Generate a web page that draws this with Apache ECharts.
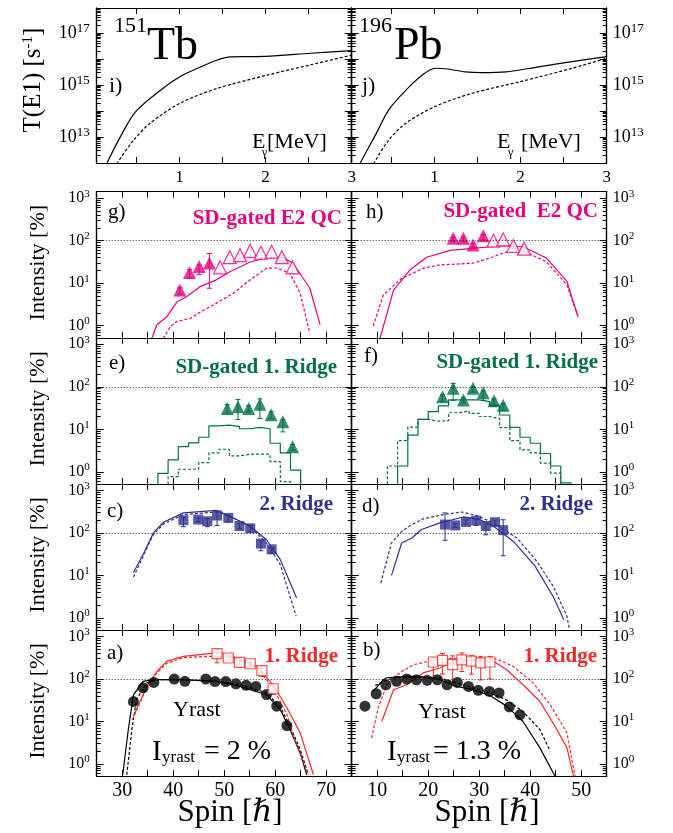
<!DOCTYPE html>
<html>
<head>
<meta charset="utf-8">
<script src="https://cdn.jsdelivr.net/npm/echarts@6/dist/echarts.min.js"></script>
<style>html,body{margin:0;padding:0;background:#fff}#chart{width:673px;height:833px}</style>
</head>
<body>
<div id="chart"></div>
<script>
// ---------- data ----------
// T(E1) vs E_gamma, 151Tb (i) and 196Pb (j)
var tbEs = [0.14, 0.16, 0.32, 0.49, 0.78, 1.01, 1.25, 1.44, 1.59, 1.8, 2.0, 2.52, 3.0];
var tbTs = [6e11, 1.0e12, 1.1e13, 9.3e13, 6.3e14, 2.1e15, 5.0e15, 9.1e15, 1.2e16, 1.23e16, 1.25e16, 1.66e16, 2.09e16];
var tbEd = [0.26, 0.28, 0.47, 0.66, 1.01, 1.44, 2.02, 2.52, 3.0];
var tbTd = [6e11, 1.0e12, 7.6e12, 3.4e13, 2.0e14, 7.4e14, 2.4e15, 5.9e15, 1.41e16];
var pbEs = [0.12, 0.14, 0.32, 0.47, 0.67, 0.86, 1.01, 1.13, 1.36, 1.55, 1.83, 2.21, 2.6, 3.0];
var pbTs = [6e11, 1.0e12, 1.26e13, 1.1e14, 6.3e14, 2.4e15, 4.4e15, 4.2e15, 3.2e15, 3.0e15, 3.2e15, 5.0e15, 7.9e15, 1.23e16];
var pbEd = [0.28, 0.30, 0.47, 0.67, 1.01, 1.44, 2.0, 2.6, 3.0];
var pbTd = [6e11, 1.0e12, 7.6e12, 3.4e13, 1.5e14, 4.8e14, 1.35e15, 4.4e15, 1.07e16];

// g) / h) SD-gated E2 QC
var gSolid = [[35.8,0.5],[36.8,1.05],[38.7,1.6],[40.7,3.6],[42.6,4.8],[45.25,8.3],[48.5,12],[51.1,18.6],[55.1,31.6],[58.3,40],[61.6,40],[63.5,29.5],[66.8,7.6],[68.8,1.05]];
var gDash = [[38.06,0.5],[39.4,0.95],[40.7,1.26],[43.3,1.48],[45.9,2.3],[48.5,3.4],[51.8,5.8],[55.1,12],[58.3,22.4],[60.3,22.9],[62.9,17],[64.9,5.8],[66.8,0.66]];
var gFillS = [41.3, 43.2, 45.1, 47.1];
var gFillI = [6.9, 17.8, 24.6, 30];
var gFillLo = [5.6, 13, 16, 7.6];
var gFillHi = [7.8, 21, 27, 50];
var gOpenS = [49.2, 51.1, 53.1, 55.1, 57.2, 59.3, 61.3, 63.4];
var gOpenI = [23.7, 40.9, 45.8, 58, 52, 55, 41, 23.7];
var gOpenLo = [18, 30, 35, 40, 38, 40, 30, 17];
var gOpenHi = [28, 45, 50, 62, 55, 58, 44, 26];

var hSolid = [[10.55,0.5],[13.2,6.9],[16.4,20.4],[19.7,40.7],[24.3,59],[28.8,66],[34.1,76],[38.6,72],[43.2,39],[47.2,11],[49.4,1.6]];
var hDash = [[9.2,0.98],[11.2,5.2],[14.5,12.3],[19.0,22.4],[22.3,27],[28.8,29.5],[32.1,39],[35.4,55],[38.6,57.5],[43.2,32],[47.2,9.1],[49.4,1.6]];
var hFillS = [24.9, 26.9, 28.8, 30.8];
var hFillI = [114, 114, 79, 131];
var hFillLo = [95, 95, 70, 105];
var hFillHi = [120, 120, 88, 140];
var hOpenS = [32.8, 34.7, 36.7, 38.8];
var hOpenI = [100, 107, 75, 65];
var hOpenLo = [85, 80, 65, 55];
var hOpenHi = [104, 110, 80, 70];

// e) / f) SD-gated 1. Ridge (histograms)
var eEdges = [37,39,41,43,45,47,49,51,53,55,57,59,61,63,65];
var eSolidV = [0.92,1.9,3.9,4.8,6.5,12,12.6,11.6,10.3,11.1,10.3,4.7,2.8,1.1];
var eDashEdges = [39,41,43,45,47,49,51,53,55,57,59,61,63];
var eDashV = [0.77,1.15,1.15,1.64,2.8,3.4,2.36,2.6,2.6,2.6,1.73,0.59];
var eTriS = [50.6, 52.7, 54.8, 57.0, 59.2, 61.5, 63.4];
var eTriI = [31, 34, 31, 39, 22, 15, 3.9];
var eTriLo = [24, 17, 26, 18, 18, 8.7, 3.2];
var eTriHi = [38, 50, 36, 52, 26, 17, 4.4];

var fEdges = [14,16,18,20,22,24,26,28,30,32,34,36,38,40,42,44,46,48];
var fSolidV = [1.37,7.3,17.2,26,35.5,49,49,49,45,37,21.7,11.1,6.5,4.7,2.7,1.37,0.55];
var fDashEdges = [12,14,16,18,20,22,24,26,28,30,32,34,36,38,40,42,44,46];
var fDashV = [1.37,5.4,11.3,17.2,15.5,16,24.5,27,23.7,20,18,11,5.4,3.3,2.8,1.6,0.93];
var fTriS = [22.8, 24.9, 26.9, 28.8, 30.8, 32.9, 34.7];
var fTriI = [58.5, 93, 49, 93, 72, 47, 37];
var fTriLo = [45, 48, 42, 75, 48, 35, 28];
var fTriHi = [65, 120, 55, 100, 80, 52, 40];

// c) / d) 2. Ridge
var cSolid = [[32.2,11.7],[34.1,31],[36.1,100],[38.1,178],[42.0,295],[48.5,340],[51.8,225],[55.1,143],[58.3,69],[61.0,23.5],[64.2,2.95]];
var cDash = [[32.2,9.2],[36.1,91],[38.1,162],[42.0,270],[48.5,310],[51.8,225],[55.1,140],[58.3,58],[61.0,18],[64.1,1.1]];
var cSqS = [42.0, 44.9, 46.7, 48.6, 50.8, 53.0, 55.1, 57.2, 59.3];
var cSqI = [199, 206, 188, 256, 225, 145, 128, 56, 41];
var cSqLo = [140, 185, 140, 150, 180, 125, 105, 38, 33];
var cSqHi = [230, 225, 215, 320, 260, 165, 150, 65, 45];

var dSolid = [[12.8,10],[14.8,58],[16.8,76],[18.7,120],[22.3,172],[26.9,237],[30.2,204],[32.8,143],[36.7,63],[40.9,17],[44.5,3.2],[46.6,0.91]];
var dDash = [[10.7,6.6],[12.8,58],[14.8,109],[16.8,157],[19.0,214],[23.0,270],[26.6,310],[29.5,256],[32.8,172],[37.4,76],[41.3,21.5],[44.5,5.6],[47.2,1.1],[47.7,0.53]];
var dSqS = [23.3, 25.3, 27.4, 29.4, 31.3, 33.1, 34.7];
var dSqI = [157, 150, 181, 195, 145, 178, 116];
var dSqLo = [67, 135, 160, 150, 90, 150, 29];
var dSqHi = [295, 165, 200, 215, 160, 200, 204];

// a) / b) 1. Ridge + Yrast
var aYrSolid = [[30.1,0.56],[31.2,6.5],[32.2,42.5],[34.1,88],[36.1,97],[42.0,97],[48.5,88],[53.1,67],[58.3,42.5],[61.0,19],[62.9,6.5],[64.9,1.8],[66.2,0.56]];
var aYrDash = [[30.9,0.56],[31.9,6.5],[32.8,33],[34.8,80],[36.7,97],[42.0,95],[48.5,88],[53.1,74],[58.3,47],[61.0,22],[62.9,7.8],[64.9,2.2],[66.5,0.56]];
var aRiSolid = [[32.2,13.2],[34.8,67],[36.8,150],[38.7,260],[42.0,340],[46.6,388],[49.2,420],[53.1,295],[56.4,198],[59.6,73],[62.3,21],[64.9,5.4],[67.5,0.56]];
var aRiDash = [[32.0,11],[34.8,62],[36.8,138],[38.7,232],[42.0,318],[46.6,340],[50.5,340],[53.1,275],[56.4,183],[59.6,62],[62.3,14.5],[63.7,4.1],[66.5,0.56]];
var aYrS = [32.2, 34.1, 36.2, 40.2, 42.3, 46.4, 48.2, 50.3, 52.3, 54.3, 56.2, 58.3, 60.3, 62.3];
var aYrI = [29.5, 62, 83, 100, 88, 100, 87, 87, 77, 71, 67, 43, 23, 8.0];
var aSqS = [48.6, 50.8, 53.0, 55.1, 57.4, 59.6];
var aSqI = [394, 312, 245, 228, 157, 59];
var aSqLo = [240, 280, 225, 200, 115, 43];
var aSqHi = [490, 340, 265, 250, 180, 70];

var bYrSolid = [[9.2,51],[11.2,96],[11.9,107],[15.8,115],[19.0,112],[22.3,96],[25.6,67],[28.8,56],[32.1,41],[35.4,23],[38.6,10],[41.9,2.4],[44.9,0.51]];
var bYrDash = [[9.6,70],[11.2,87],[13.0,105],[16.0,110],[22.3,105],[25.6,80],[28.8,62],[32.1,47],[35.4,32],[38.6,17],[41.9,6.5],[43.9,2.0]];
var bRiSolid = [[10.9,10],[13.2,56],[15.8,73],[19.0,139],[22.3,181],[24.9,260],[28.8,275],[32.8,260],[35.4,165],[38.6,73],[41.9,30],[44.9,7.6],[47.2,2.4],[48.5,0.51]];
var bRiDash = [[8.9,4.1],[10.2,21],[11.9,73],[13.8,126],[17.1,217],[22.3,295],[28.8,323],[33.4,295],[36.7,198],[40.6,80],[43.9,25],[47.2,5.4],[48.8,0.51]];
var bYrS = [7.6, 9.8, 11.7, 13.8, 15.8, 17.7, 19.8, 21.8, 23.7, 25.7, 27.9, 29.8, 32.0, 33.9, 35.9, 38.0];
var bYrI = [23, 45, 73, 88, 100, 96, 93, 96, 73, 83, 67, 54, 51, 47, 22, 14.4];
var bSqS = [21.0, 22.8, 24.8, 26.6, 28.5, 30.3, 32.1];
var bSqI = [251, 275, 217, 282, 262, 240, 251];
var bSqLo = [110, 130, 85, 150, 130, 95, 100];
var bSqHi = [320, 400, 350, 410, 360, 340, 340];

// ---------- layout / style ----------
var FONT = "'Liberation Serif', 'DejaVu Serif', serif";
var PINK = '#e6007e', GREEN = '#00704a', BLUE = '#2e3192', RED = '#ee2a2a', BLACK = '#000';
var colLeft = [96.7, 351.7], colW = 255;
var rowTops = [191.7, 337.8, 483.9, 630.0], rowH = 146.1;
var intMin = 0.52, intMax = 1420;
var tMin = 1e12, tMax = 9.1e17;

var grids = [], xAxes = [], yAxes = [], series = [];

function powLabel(oddOnly) {
    return function (v) {
        var e = Math.log10(v), r = Math.round(e);
        if (Math.abs(e - r) > 1e-6) return '';
        if (oddOnly && Math.abs(r % 2) !== 1) return '';
        return '10{e|' + r + '}';
    };
}

function minorLogTicks(lo, hi) {
    var out = [];
    for (var n = Math.floor(Math.log10(lo)); n <= Math.ceil(Math.log10(hi)); n++) {
        for (var k = 2; k <= 9; k++) {
            var v = Math.log10(k) + n;
            if (v > Math.log10(lo) && v < Math.log10(hi)) out.push(v);
        }
    }
    return out;
}

function addPanel(gi, side, top, height, xc, yc) {
    grids.push({left: colLeft[side], top: top, width: colW, height: height, outerBoundsMode: 'none', containLabel: false});
    var xBase = {
        type: 'value', gridIndex: gi, min: xc.min, max: xc.max,
        axisLine: {onZero: false, lineStyle: {color: BLACK, width: 1.2}},
        axisTick: {show: true, inside: true, length: 6, lineStyle: {color: BLACK}},
        splitLine: {show: false}
    };
    if (xc.interval) xBase.interval = xc.interval;
    xAxes.push(Object.assign({}, xBase, {
        position: 'bottom',
        axisLabel: {show: !!xc.labels, formatter: xc.fmt, fontFamily: FONT, fontSize: xc.fontSize || 17, color: BLACK, margin: xc.margin || 5}
    }));
    xAxes.push(Object.assign({}, xBase, {position: 'top', axisLabel: {show: false}}));

    var yBase = {
        type: 'log', logBase: 10, gridIndex: gi, min: yc.min, max: yc.max,
        axisLine: {onZero: false, lineStyle: {color: BLACK, width: 1.2}},
        axisTick: {show: true, inside: true, length: 7, lineStyle: {color: BLACK}},
        splitLine: {show: false}
    };
    var lab = {
        show: true, formatter: powLabel(yc.odd), fontFamily: FONT, fontSize: yc.fs, color: BLACK, lineHeight: yc.fs + 4,
        rich: {e: {fontFamily: FONT, fontSize: yc.sfs, color: BLACK, verticalAlign: 'top', lineHeight: yc.sfs}}
    };
    yAxes.push(Object.assign({}, yBase, {position: 'left', axisLabel: side === 0 ? Object.assign({}, lab, {margin: 7}) : {show: false}}));
    yAxes.push(Object.assign({}, yBase, {position: 'right', axisLabel: side === 1 ? Object.assign({}, lab, {margin: 6}) : {show: false}}));
    var minor = {
        type: 'value', gridIndex: gi, min: Math.log10(yc.min), max: Math.log10(yc.max),
        axisLine: {show: true, onZero: false, lineStyle: {color: BLACK, width: 1.2}},
        axisTick: {show: true, inside: true, length: 4, customValues: minorLogTicks(yc.min, yc.max), lineStyle: {color: BLACK}},
        axisLabel: {show: false}, splitLine: {show: false}
    };
    yAxes.push(Object.assign({}, minor, {position: 'left'}));
    yAxes.push(Object.assign({}, minor, {position: 'right'}));
}

function intFmt(v) { return Math.abs(v - Math.round(v)) < 1e-6 && v >= 1 ? String(Math.round(v)) : ''; }
function tenFmt(v) { return v % 10 === 0 ? String(v) : ''; }

// top panels
var eAxis = {min: 0.04, max: 3, labels: true, fmt: intFmt, fontSize: 17, margin: 6};
var tAxis = {min: tMin, max: tMax, odd: true, fs: 18, sfs: 13};
addPanel(0, 0, 8, 155, eAxis, tAxis);
addPanel(1, 1, 8, 155, eAxis, tAxis);
// intensity panels
var iAxis = {min: intMin, max: intMax, fs: 16, sfs: 11};
for (var r = 0; r < 4; r++) {
    var last = r === 3;
    addPanel(2 + 2 * r, 0, rowTops[r], rowH, {min: 25, max: 75, interval: 5, labels: last, fmt: tenFmt, fontSize: 20, margin: 5}, iAxis);
    addPanel(3 + 2 * r, 1, rowTops[r], rowH, {min: 5, max: 55, interval: 5, labels: last, fmt: tenFmt, fontSize: 20, margin: 5}, iAxis);
}

function zip(xs, ys) { return xs.map(function (x, i) { return [x, ys[i]]; }); }

function addLine(gi, data, color, dashed, smooth) {
    series.push({
        type: 'line', xAxisIndex: 2 * gi, yAxisIndex: 4 * gi, data: data, symbol: 'none',
        smooth: smooth || false, clip: true, silent: true, z: 2,
        lineStyle: {color: color, width: 1.2, type: dashed ? [3, 2] : 'solid'}
    });
}

function addStep(gi, edges, vals, color, dashed) {
    var d = [[edges[0], 0.1]];
    vals.forEach(function (v, i) { d.push([edges[i], v]); });
    d.push([edges[edges.length - 1], vals[vals.length - 1]]);
    d.push([edges[edges.length - 1], 0.1]);
    series.push({
        type: 'line', step: 'end', xAxisIndex: 2 * gi, yAxisIndex: 4 * gi, data: d, symbol: 'none',
        clip: true, silent: true, z: 2,
        lineStyle: {color: color, width: 1.2, type: dashed ? [3, 2] : 'solid'}
    });
}

function addErr(gi, xs, lo, hi, color) {
    series.push({
        type: 'custom', xAxisIndex: 2 * gi, yAxisIndex: 4 * gi, silent: true, z: 3, clip: true,
        data: xs.map(function (x, i) { return [x, lo[i], hi[i]]; }),
        encode: {x: 0, y: [1, 2]},
        renderItem: function (params, api) {
            var x = api.value(0);
            var a = api.coord([x, api.value(1)]), b = api.coord([x, api.value(2)]);
            var st = {stroke: color, lineWidth: 1};
            return {type: 'group', children: [
                {type: 'line', shape: {x1: a[0], y1: a[1], x2: b[0], y2: b[1]}, style: st},
                {type: 'line', shape: {x1: a[0] - 2.5, y1: a[1], x2: a[0] + 2.5, y2: a[1]}, style: st},
                {type: 'line', shape: {x1: b[0] - 2.5, y1: b[1], x2: b[0] + 2.5, y2: b[1]}, style: st}
            ]};
        }
    });
}

function addPts(gi, xs, ys, symbol, size, color, open) {
    series.push({
        type: 'scatter', xAxisIndex: 2 * gi, yAxisIndex: 4 * gi, data: zip(xs, ys),
        symbol: symbol, symbolSize: size, silent: true, z: 4,
        itemStyle: open ? {color: '#fff', borderColor: color, borderWidth: 1.2} : {color: color}
    });
}

function addRef(gi) {
    series.push({
        type: 'line', xAxisIndex: 2 * gi, yAxisIndex: 4 * gi, data: [], silent: true,
        markLine: {silent: true, symbol: 'none', label: {show: false}, animation: false,
            lineStyle: {color: '#222', width: 1, type: [1, 2]}, data: [{yAxis: 100}]}
    });
}

var TRI = 13, CIR = 11, SQ = 10;

// i), j)
addLine(0, zip(tbEs, tbTs), BLACK, false, 0.3);
addLine(0, zip(tbEd, tbTd), BLACK, true, 0.3);
addLine(1, zip(pbEs, pbTs), BLACK, false, 0.3);
addLine(1, zip(pbEd, pbTd), BLACK, true, 0.3);

for (var gi = 2; gi < 10; gi++) addRef(gi);

// g), h)
addLine(2, gSolid, PINK, false); addLine(2, gDash, PINK, true);
addErr(2, gFillS, gFillLo, gFillHi, PINK); addErr(2, gOpenS, gOpenLo, gOpenHi, PINK);
addPts(2, gFillS, gFillI, 'triangle', TRI, PINK, false); addPts(2, gOpenS, gOpenI, 'triangle', TRI, PINK, true);
addLine(3, hSolid, PINK, false); addLine(3, hDash, PINK, true);
addErr(3, hFillS, hFillLo, hFillHi, PINK); addErr(3, hOpenS, hOpenLo, hOpenHi, PINK);
addPts(3, hFillS, hFillI, 'triangle', TRI, PINK, false); addPts(3, hOpenS, hOpenI, 'triangle', TRI, PINK, true);

// e), f)
addStep(4, eEdges, eSolidV, GREEN, false); addStep(4, eDashEdges, eDashV, GREEN, true);
addErr(4, eTriS, eTriLo, eTriHi, GREEN); addPts(4, eTriS, eTriI, 'triangle', TRI, GREEN, false);
addStep(5, fEdges, fSolidV, GREEN, false); addStep(5, fDashEdges, fDashV, GREEN, true);
addErr(5, fTriS, fTriLo, fTriHi, GREEN); addPts(5, fTriS, fTriI, 'triangle', TRI, GREEN, false);

// c), d)
addLine(6, cSolid, BLUE, false); addLine(6, cDash, BLUE, true);
addErr(6, cSqS, cSqLo, cSqHi, BLUE); addPts(6, cSqS, cSqI, 'rect', SQ, BLUE, false);
addLine(7, dSolid, BLUE, false); addLine(7, dDash, BLUE, true);
addErr(7, dSqS, dSqLo, dSqHi, BLUE); addPts(7, dSqS, dSqI, 'rect', SQ, BLUE, false);

// a), b)
addLine(8, aYrSolid, BLACK, false); addLine(8, aYrDash, BLACK, true);
addLine(8, aRiSolid, RED, false); addLine(8, aRiDash, RED, true);
addPts(8, aYrS, aYrI, 'circle', CIR, BLACK, false);
addErr(8, aSqS, aSqLo, aSqHi, RED); addPts(8, aSqS, aSqI, 'rect', SQ, RED, true);
addLine(9, bYrSolid, BLACK, false); addLine(9, bYrDash, BLACK, true);
addLine(9, bRiSolid, RED, false); addLine(9, bRiDash, RED, true);
addPts(9, bYrS, bYrI, 'circle', CIR, BLACK, false);
addErr(9, bSqS, bSqLo, bSqHi, RED); addPts(9, bSqS, bSqI, 'rect', SQ, RED, true);

// ---------- text ----------
function txt(x, y, text, size, o) {
    o = o || {};
    return {
        type: 'text', x: x, y: y, rotation: o.rot || 0, silent: true, z: 100,
        style: {
            text: text, fontFamily: FONT, fontSize: size, fontWeight: o.bold ? 'bold' : 'normal',
            fill: o.color || BLACK, align: o.align || 'left', verticalAlign: 'middle',
            textAlign: o.align || 'left', textVerticalAlign: 'middle', rich: o.rich
        }
    };
}
var supRich = {u: {fontFamily: FONT, fontSize: 15, verticalAlign: 'top', lineHeight: 15}};
var graphics = [
    txt(147, 26, '151', 22, {align: 'right'}),
    txt(147, 47, 'Tb', 46),
    txt(392, 26, '196', 22, {align: 'right'}),
    txt(394, 47, 'Pb', 46),
    txt(109, 86, 'i)', 22),
    txt(362, 86, 'j)', 22),
    txt(252, 142, 'E', 22), txt(262, 153, 'γ', 12), txt(267, 142, '[MeV]', 22),
    txt(497, 142, 'E', 22), txt(508, 153, 'γ', 12), txt(521, 142, '[MeV]', 22),
    txt(33, 80, 'T(E1) [s{u|-1}]', 25, {align: 'center', rot: Math.PI / 2, rich: supRich}),
    txt(108, 212, 'g)', 21), txt(342, 219, 'SD-gated E2 QC', 21, {align: 'right', bold: true, color: PINK}),
    txt(366, 212, 'h)', 21), txt(598, 212, 'SD-gated  E2 QC', 21, {align: 'right', bold: true, color: PINK}),
    txt(109, 363, 'e)', 21), txt(337, 368, 'SD-gated 1. Ridge', 21, {align: 'right', bold: true, color: GREEN}),
    txt(364, 356, 'f)', 21), txt(598, 363, 'SD-gated 1. Ridge', 21, {align: 'right', bold: true, color: GREEN}),
    txt(107, 511, 'c)', 21), txt(333, 505, '2. Ridge', 21, {align: 'right', bold: true, color: BLUE}),
    txt(362, 506, 'd)', 21), txt(593, 505, '2. Ridge', 21, {align: 'right', bold: true, color: BLUE}),
    txt(107, 653, 'a)', 21), txt(338, 657, '1. Ridge', 21, {align: 'right', bold: true, color: RED}),
    txt(363, 650, 'b)', 21), txt(597, 657, '1. Ridge', 21, {align: 'right', bold: true, color: RED}),
    txt(173, 710, 'Yrast', 22), txt(418, 712, 'Yrast', 22),
    txt(152, 752, 'I', 29), txt(162, 758, 'yrast', 17), txt(204, 752, '= 2 %', 28),
    txt(387, 752, 'I', 29), txt(397, 758, 'yrast', 17), txt(433, 752, '= 1.3 %', 28),
    txt(230, 813, 'Spin [ℏ]', 31, {align: 'center'}),
    txt(487, 813, 'Spin [ℏ]', 31, {align: 'center'})
];
rowTops.forEach(function (t) {
    graphics.push(txt(38, t + 71, 'Intensity [%]', 22, {align: 'center', rot: Math.PI / 2}));
});

var chart = echarts.init(document.getElementById('chart'), null, {renderer: 'canvas'});
chart.setOption({
    animation: false,
    backgroundColor: '#fff',
    grid: grids,
    xAxis: xAxes,
    yAxis: yAxes,
    series: series,
    graphic: graphics
});
</script>
</body>
</html>
